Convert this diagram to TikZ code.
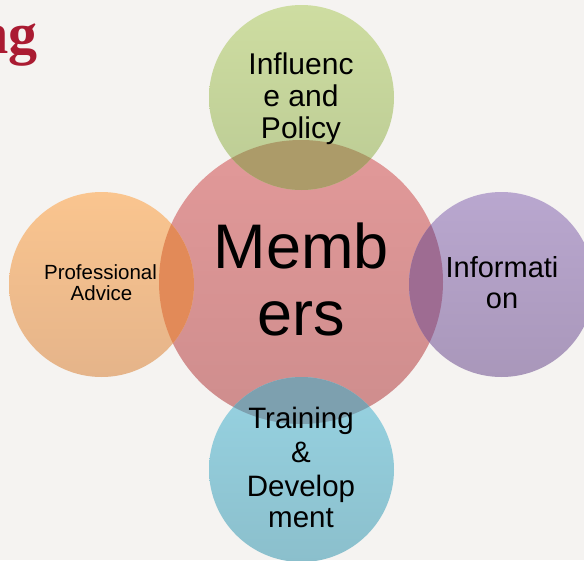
\documentclass[tikz,border=0pt]{standalone}
\usepackage{fontspec}
\setmainfont{Liberation Sans}
\newfontfamily\titlefont{Liberation Serif}
\definecolor{bgc}{RGB}{245,243,241}
\definecolor{pinkT}{RGB}{226,153,153}
\definecolor{pinkB}{RGB}{206,141,141}
\definecolor{greenT}{RGB}{206,221,161}
\definecolor{greenB}{RGB}{187,203,148}
\definecolor{orangeT}{RGB}{250,197,143}
\definecolor{orangeB}{RGB}{229,180,138}
\definecolor{purpleT}{RGB}{185,167,207}
\definecolor{purpleB}{RGB}{169,151,186}
\definecolor{blueT}{RGB}{151,211,226}
\definecolor{blueB}{RGB}{139,191,204}
\definecolor{ovGreen}{RGB}{172,155,105}
\definecolor{ovOrange}{RGB}{226,138,88}
\definecolor{ovPurple}{RGB}{158,108,146}
\definecolor{ovBlue}{RGB}{125,160,175}
\definecolor{titlered}{RGB}{170,27,50}
\tikzset{
  lbl/.style={anchor=base, inner sep=0pt, text=black},
}
\begin{document}
\begin{tikzpicture}[x=1pt,y=-1pt]
\fill[bgc] (0,0) rectangle (584,560);
\useasboundingbox (0,0) rectangle (584,560);
% title fragment
\node[anchor=base east, inner sep=0pt, text=titlered, font=\titlefont\bfseries\fontsize{58}{60}\selectfont] (title) at (38,53) {ng};
% centres
\coordinate (cm) at (301,282);
\coordinate (ct) at (301.5,97.5);
\coordinate (cl) at (101.5,284.5);
\coordinate (cr) at (501.5,284.5);
\coordinate (cb) at (301.5,469.5);
% central circle
\shade[top color=pinkT, bottom color=pinkB] (cm) circle (142);
% satellites
\shade[top color=greenT, bottom color=greenB] (ct) circle (92.5);
\shade[top color=orangeT, bottom color=orangeB] (cl) circle (92.5);
\shade[top color=purpleT, bottom color=purpleB] (cr) circle (92.5);
\shade[top color=blueT, bottom color=blueB] (cb) circle (92.5);
% overlaps
\begin{scope}
  \clip (cm) circle (142);
  \fill[ovGreen] (ct) circle (92.5);
  \fill[ovOrange] (cl) circle (92.5);
  \fill[ovPurple] (cr) circle (92.5);
  \fill[ovBlue] (cb) circle (92.5);
\end{scope}
% texts
\begin{scope}[font=\fontsize{30}{32}\selectfont]
  \node[lbl] (t1) at (301,74) {Influenc};
  \node[lbl] (t2) at (301,106) {e and};
  \node[lbl] (t3) at (301,138) {Policy};
\end{scope}
\begin{scope}[font=\fontsize{63}{67}\selectfont]
  \node[lbl] (m1) at (301.5,268) {Memb};
  \node[lbl] (m2) at (301.5,335) {ers};
\end{scope}
\begin{scope}[font=\fontsize{20.5}{22}\selectfont]
  \node[lbl] (p1) at (100.5,279) {Professional};
  \node[lbl] (p2) at (101.5,300) {Advice};
\end{scope}
\begin{scope}[font=\fontsize{29}{31}\selectfont]
  \node[lbl] (i1) at (502,277) {Informati};
  \node[lbl] (i2) at (502,308) {on};
\end{scope}
\begin{scope}[font=\fontsize{29.5}{33}\selectfont]
  \node[lbl] (d1) at (301,428) {Training};
  \node[lbl] (d2) at (301,462) {\&};
  \node[lbl] (d3) at (301,496) {Develop};
  \node[lbl] (d4) at (301,527) {ment};
\end{scope}
\end{tikzpicture}
\end{document}
